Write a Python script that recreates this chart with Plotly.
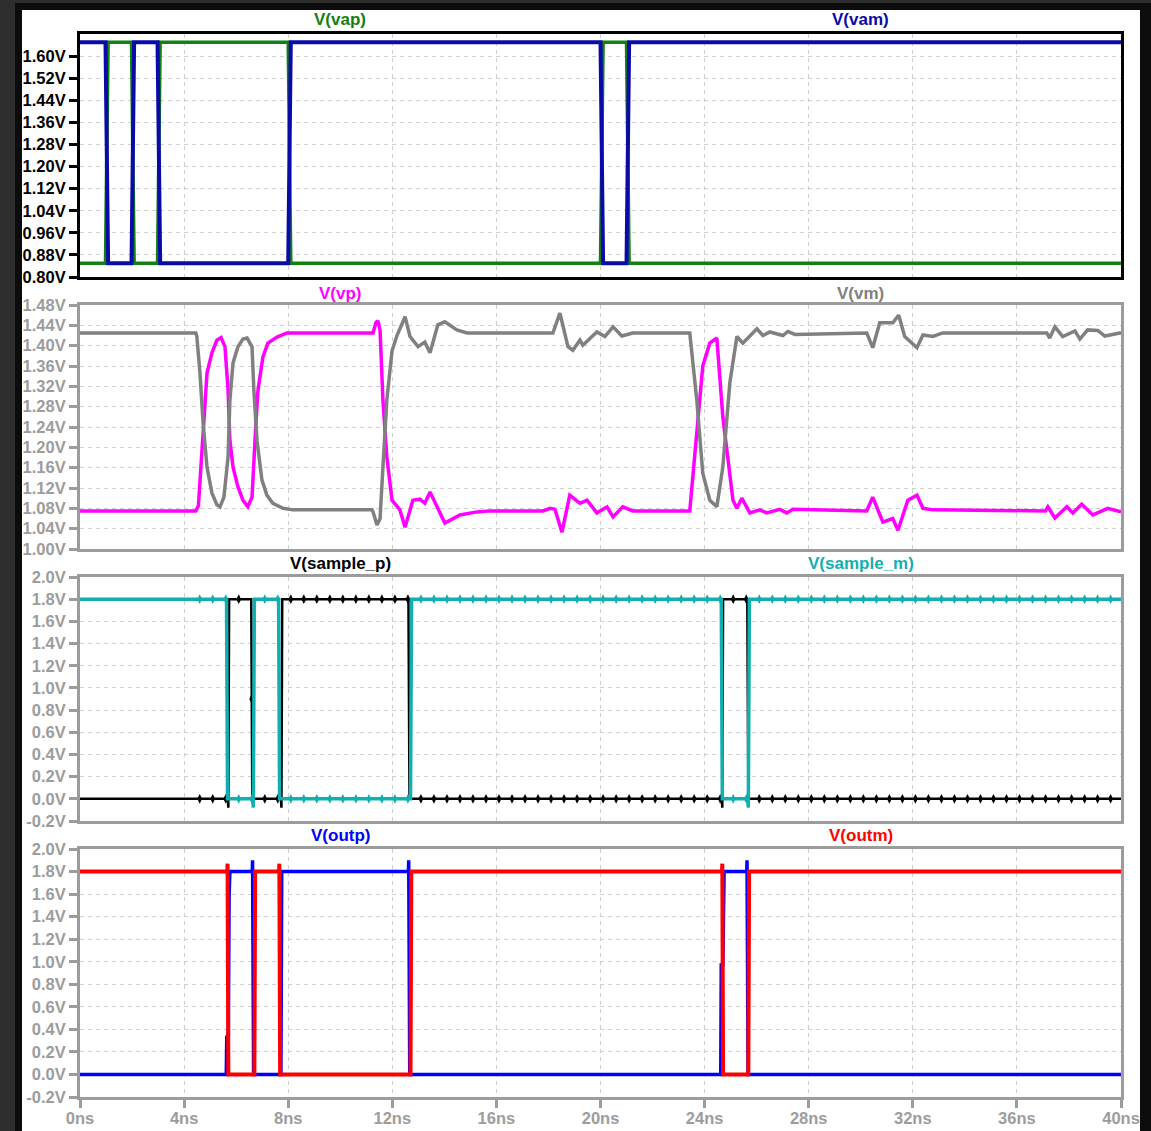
import numpy as np
import plotly.graph_objects as go

W, H = 1151, 1131

# ---------------- data ----------------
# time axis (ns)
x_tick_vals = [0, 4, 8, 12, 16, 20, 24, 28, 32, 36, 40]
x_tick_text = ["0ns", "4ns", "8ns", "12ns", "16ns", "20ns", "24ns", "28ns", "32ns", "36ns", "40ns"]

# panel 1 : V(vap), V(vam)
t_va = [0, 0.98, 1.08, 1.98, 2.08, 2.98, 3.08, 8.00, 8.10, 20.00, 20.10, 21.00, 21.10, 40]
v_vam = [1.65, 1.65, 0.85, 0.85, 1.65, 1.65, 0.85, 0.85, 1.65, 1.65, 0.85, 0.85, 1.65, 1.65]
v_vap = [0.85, 0.85, 1.65, 1.65, 0.85, 0.85, 1.65, 1.65, 0.85, 0.85, 1.65, 1.65, 0.85, 0.85]
y1_ticks = [0.80, 0.88, 0.96, 1.04, 1.12, 1.20, 1.28, 1.36, 1.44, 1.52, 1.60]

# panel 2 : V(vp), V(vm)
t_vp = [0, 4.45, 4.55, 4.61, 4.73, 4.88, 5.07, 5.26, 5.42, 5.57, 5.69, 5.76, 5.88, 6.07,
        6.26, 6.45, 6.61, 6.68, 6.76, 6.84, 7.03, 7.22, 7.57, 7.95, 11.26, 11.37, 11.45,
        11.53, 11.64, 11.79, 11.99, 12.29, 12.49, 12.79, 13.06, 13.25, 13.45, 14.02, 14.60,
        15.25, 15.75, 17.79, 18.06, 18.25, 18.52, 18.82, 19.21, 19.48, 19.86, 20.25, 20.48,
        20.86, 21.24, 23.43, 23.70, 23.93, 24.20, 24.47, 24.70, 24.97, 25.09, 25.24, 25.43,
        25.74, 26.12, 26.39, 26.89, 27.16, 27.39, 30.23, 30.46, 30.85, 31.23, 31.43, 31.81,
        32.16, 32.39, 32.77, 37.10, 37.19, 37.46, 37.92, 38.15, 38.49, 38.92, 39.49, 39.95, 40]
v_vp = [1.075, 1.075, 1.085, 1.13, 1.234, 1.346, 1.386, 1.411, 1.416, 1.398, 1.313, 1.214,
        1.161, 1.122, 1.096, 1.083, 1.102, 1.181, 1.248, 1.313, 1.378, 1.405, 1.417, 1.425,
        1.425, 1.445, 1.449, 1.43, 1.293, 1.181, 1.096, 1.077, 1.043, 1.096, 1.098, 1.09,
        1.112, 1.051, 1.067, 1.073, 1.075, 1.075, 1.08, 1.078, 1.033, 1.106, 1.09, 1.096,
        1.071, 1.083, 1.063, 1.083, 1.075, 1.075, 1.228, 1.36, 1.405, 1.415, 1.26, 1.142,
        1.096, 1.08, 1.10, 1.071, 1.077, 1.071, 1.078, 1.071, 1.078, 1.075, 1.102, 1.053,
        1.06, 1.037, 1.096, 1.106, 1.08, 1.077, 1.075, 1.083, 1.061, 1.083, 1.071, 1.088,
        1.067, 1.08, 1.073, 1.073]

t_vm = [0, 4.45, 4.49, 4.61, 4.73, 4.88, 5.07, 5.26, 5.38, 5.53, 5.69, 5.76, 5.88, 6.07,
        6.26, 6.42, 6.61, 6.68, 6.80, 6.99, 7.18, 7.41, 7.80, 8.18, 11.22, 11.26, 11.41,
        11.53, 11.64, 11.79, 11.99, 12.18, 12.49, 12.68, 12.99, 13.25, 13.45, 13.75, 14.02,
        14.48, 14.87, 18.17, 18.44, 18.75, 18.94, 19.21, 19.32, 19.86, 20.17, 20.48, 20.82,
        21.24, 23.43, 23.70, 23.93, 24.20, 24.47, 24.70, 24.97, 25.24, 25.47, 26.01, 26.24,
        26.51, 27.01, 27.20, 27.47, 30.23, 30.46, 30.73, 31.23, 31.46, 31.69, 32.16, 32.39,
        32.77, 33.15, 37.15, 37.26, 37.46, 37.76, 38.23, 38.42, 38.72, 39.11, 39.38, 39.95, 40]
v_vm = [1.425, 1.425, 1.418, 1.346, 1.248, 1.161, 1.11, 1.087, 1.083, 1.102, 1.181, 1.293,
        1.366, 1.398, 1.413, 1.415, 1.398, 1.313, 1.214, 1.136, 1.106, 1.09, 1.08, 1.077,
        1.077, 1.073, 1.047, 1.06, 1.161, 1.293, 1.39, 1.42, 1.457, 1.418, 1.398, 1.407,
        1.386, 1.441, 1.447, 1.431, 1.425, 1.425, 1.464, 1.398, 1.391, 1.411, 1.401, 1.427,
        1.418, 1.437, 1.419, 1.425, 1.425, 1.293, 1.149, 1.096, 1.083, 1.161, 1.327, 1.418,
        1.405, 1.433, 1.42, 1.427, 1.42, 1.428, 1.422, 1.425, 1.396, 1.445, 1.445, 1.46,
        1.418, 1.396, 1.421, 1.418, 1.425, 1.425, 1.415, 1.437, 1.418, 1.429, 1.413, 1.431,
        1.43, 1.419, 1.425, 1.425]
y2_ticks = [1.00, 1.04, 1.08, 1.12, 1.16, 1.20, 1.24, 1.28, 1.32, 1.36, 1.40, 1.44, 1.48]

# panel 3 : V(sample_p), V(sample_m)
t_sp = [0, 5.68, 5.70, 5.73, 6.58, 6.62, 7.72, 7.74, 7.77, 12.62, 12.66, 24.66, 24.68,
        24.71, 25.64, 25.68, 40]
v_sp = [0, 0, -0.08, 1.8, 1.8, 0, 0, -0.08, 1.8, 1.8, 0, 0, -0.08, 1.8, 1.8, 0, 0]
t_sm = [0, 5.63, 5.67, 6.64, 6.66, 6.70, 7.63, 7.67, 12.70, 12.74, 24.64, 24.68, 25.66,
        25.68, 25.72, 40]
v_sm = [1.8, 1.8, 0, 0, -0.08, 1.8, 1.8, 0, 0, 1.8, 1.8, 0, 0, -0.08, 1.8, 1.8]
# clock kick-back glitches seen on both sample nodes (ns)
glitch_t = [4.6, 5.1, 5.6, 6.1, 6.6, 7.1, 7.6, 8.1, 8.6, 9.1, 9.6, 10.1, 10.6, 11.1, 11.6,
            12.1, 12.6, 13.1, 13.6, 14.1, 14.6, 15.1, 15.6, 16.1, 16.6, 17.1, 17.6, 18.1,
            18.6, 19.1, 19.6, 20.1, 20.6, 21.1, 21.6, 22.1, 22.6, 23.1, 23.6, 24.1, 24.6,
            25.1, 25.6, 26.1, 26.6, 27.1, 27.6, 28.1, 28.6, 29.1, 29.6, 30.1, 30.6, 31.1,
            31.6, 32.1, 32.6, 33.1, 33.6, 34.1, 34.6, 35.1, 35.6, 36.1, 36.6, 37.1, 37.6,
            38.1, 38.6, 39.1, 39.6]
y34_ticks = [-0.2, 0.0, 0.2, 0.4, 0.6, 0.8, 1.0, 1.2, 1.4, 1.6, 1.8, 2.0]

# panel 4 : V(outp), V(outm)
t_op = [0, 5.62, 5.64, 5.70, 5.73, 5.76, 6.62, 6.63, 6.67, 7.72, 7.75, 12.62, 12.63,
        12.67, 24.62, 24.64, 24.70, 24.72, 24.75, 25.62, 25.63, 25.67, 40]
v_op = [0, 0, 0.33, 0.33, 1.6, 1.8, 1.8, 1.9, 0, 0, 1.8, 1.8, 1.9, 0, 0, 0.97, 0.97,
        1.32, 1.8, 1.8, 1.9, 0, 0]
t_om = [0, 5.66, 5.67, 5.70, 6.70, 6.73, 7.65, 7.66, 7.69, 12.70, 12.73, 24.67, 24.68,
        24.71, 25.68, 25.71, 40]
v_om = [1.8, 1.8, 1.87, 0, 0, 1.8, 1.8, 1.87, 0, 0, 1.8, 1.8, 1.87, 0, 0, 1.8, 1.8]

# ---------------- styling ----------------
FONT = "Liberation Sans, Arial, sans-serif"
GRAY = "#9c9c9c"
GRID = "#cfcfcf"

def px_dom(top, bottom):
    return [1 - bottom / H, 1 - top / H]

x_dom = [80 / W, 1121 / W]
panels = [
    dict(dom=px_dom(34, 277), rng=[0.80, 1.68], ticks=y1_ticks, fmt="%.2fV", col="#000000"),
    dict(dom=px_dom(305, 549), rng=[1.00, 1.48], ticks=y2_ticks, fmt="%.2fV", col=GRAY),
    dict(dom=px_dom(577, 821), rng=[-0.2, 2.0], ticks=y34_ticks, fmt="%.1fV", col=GRAY),
    dict(dom=px_dom(849, 1097), rng=[-0.2, 2.0], ticks=y34_ticks, fmt="%.1fV", col=GRAY),
]

fig = go.Figure()

def add_line(t, v, color, width, idx):
    fig.add_trace(go.Scatter(x=t, y=v, mode="lines", line=dict(color=color, width=width),
                             xaxis="x" if idx == 1 else f"x{idx}",
                             yaxis="y" if idx == 1 else f"y{idx}",
                             showlegend=False, hoverinfo="skip"))

def add_glitch(t, v, color, idx):
    lv = np.interp(glitch_t, t, v)
    fig.add_trace(go.Scatter(x=glitch_t, y=lv, mode="markers",
                             marker=dict(symbol="diamond-tall", size=7, color=color,
                                         line=dict(width=0)),
                             xaxis="x" if idx == 1 else f"x{idx}",
                             yaxis="y" if idx == 1 else f"y{idx}",
                             showlegend=False, hoverinfo="skip"))

C_VAP, C_VAM = "#128012", "#0a0aa8"
C_VP, C_VM = "#ff00ff", "#808080"
C_SP, C_SM = "#000000", "#12afb0"
C_OP, C_OM = "#0000ff", "#ff0000"

add_line(t_va, v_vap, C_VAP, 3.5, 1)
add_line(t_va, v_vam, C_VAM, 4, 1)
add_line(t_vp, v_vp, C_VP, 3.5, 2)
add_line(t_vm, v_vm, C_VM, 3.5, 2)
add_line(t_sp, v_sp, C_SP, 2.5, 3)
add_glitch(t_sp, v_sp, C_SP, 3)
add_line(t_sm, v_sm, C_SM, 3.5, 3)
add_glitch(t_sm, v_sm, C_SM, 3)
add_line(t_op, v_op, C_OP, 3.5, 4)
add_line(t_om, v_om, C_OM, 4, 4)

layout = dict(
    width=W, height=H, margin=dict(l=0, r=0, t=0, b=0),
    paper_bgcolor="#2e2e2e", plot_bgcolor="white",
    showlegend=False,
    font=dict(family=FONT),
)

for i, p in enumerate(panels, start=1):
    xa = "xaxis" if i == 1 else f"xaxis{i}"
    ya = "yaxis" if i == 1 else f"yaxis{i}"
    xn = "x" if i == 1 else f"x{i}"
    yn = "y" if i == 1 else f"y{i}"
    last = (i == 4)
    layout[xa] = dict(
        domain=x_dom, range=[0, 40], anchor=yn, automargin=False,
        showline=True, mirror=True, linewidth=3, linecolor=p["col"],
        showgrid=True, gridcolor=GRID, griddash="4px,4px", gridwidth=1,
        zeroline=False, tickmode="array", tickvals=x_tick_vals,
        ticktext=x_tick_text if last else [""] * len(x_tick_vals),
        ticks="outside" if last else "", ticklen=8, tickwidth=3, tickcolor=p["col"],
        showticklabels=last, ticklabelstandoff=-4,
        tickfont=dict(family=FONT, size=16.5, color=GRAY, weight="bold"),
        fixedrange=True,
    )
    layout[ya] = dict(
        domain=p["dom"], range=p["rng"], anchor=xn, automargin=False,
        showline=True, mirror=True, linewidth=3, linecolor=p["col"],
        showgrid=True, gridcolor=GRID, griddash="4px,4px", gridwidth=1,
        zeroline=False, tickmode="array", tickvals=p["ticks"],
        ticktext=[p["fmt"] % v for v in p["ticks"]],
        ticks="outside", ticklen=8, tickwidth=3, tickcolor=p["col"],
        tickfont=dict(family=FONT, size=16.5, color=p["col"], weight="bold"),
        fixedrange=True,
    )

fig.update_layout(**layout)

# frame: dark outer border + white canvas
shapes = [
    dict(type="rect", xref="paper", yref="paper", x0=15 / W, x1=1, y0=0, y1=1 - 3 / H,
         fillcolor="#0c0c0c", line=dict(width=0), layer="below"),
    dict(type="rect", xref="paper", yref="paper", x0=22 / W, x1=1140 / W, y0=0, y1=1 - 10 / H,
         fillcolor="white", line=dict(width=0), layer="below"),
]
fig.update_layout(shapes=shapes)

titles = [
    ("V(vap)", C_VAP, 10, 20), ("V(vam)", C_VAM, 30, 20),
    ("V(vp)", C_VP, 10, 293), ("V(vm)", C_VM, 30, 293),
    ("V(sample_p)", C_SP, 10, 564), ("V(sample_m)", C_SM, 30, 564),
    ("V(outp)", C_OP, 10, 835), ("V(outm)", C_OM, 30, 835),
]
for txt, col, xv, ypix in titles:
    fig.add_annotation(text=txt, x=xv, xref="x", y=1 - ypix / H, yref="paper",
                       showarrow=False, xanchor="center", yanchor="middle",
                       font=dict(family=FONT, size=17, color=col, weight="bold"))

fig.write_html("out.html", config={"displayModeBar": False},
               post_script="document.body.style.margin='0';document.body.style.overflow='hidden';")
